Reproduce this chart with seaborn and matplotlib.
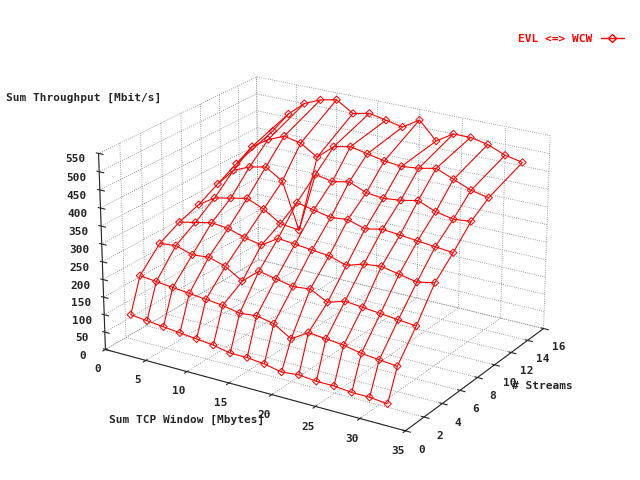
import numpy as np
import seaborn as sns
import matplotlib
matplotlib.use("Agg")
import matplotlib.pyplot as plt
from matplotlib.lines import Line2D

sns.set_style("white")
plt.rcParams['font.family'] = ['DejaVu Sans Mono']
plt.rcParams['font.weight'] = 'bold'

window = [2, 4, 6, 8, 10, 12, 14, 16, 18, 20, 22, 24, 26, 28, 30, 32]
streams = [1, 2, 4, 6, 8, 10, 12, 16]
throughput = [
    [95, 90, 85, 80, 75, 70, 60, 60, 55, 45, 50, 45, 45, 40, 40, 35],
    [190, 185, 180, 175, 170, 165, 155, 160, 150, 120, 150, 145, 140, 130, 125, 120],
    [250, 255, 240, 245, 230, 200, 240, 230, 220, 225, 200, 215, 210, 205, 200, 195],
    [280, 290, 300, 295, 280, 270, 300, 295, 290, 285, 270, 285, 290, 280, 270, 280],
    [300, 330, 340, 350, 330, 300, 370, 360, 350, 355, 340, 350, 345, 340, 335, 330],
    [330, 380, 400, 410, 380, 250, 420, 410, 420, 400, 395, 400, 410, 390, 380, 385],
    [360, 420, 450, 470, 460, 430, 470, 480, 470, 460, 455, 460, 470, 450, 430, 420],
    [400, 460, 500, 520, 530, 500, 510, 500, 490, 520, 470, 500, 500, 490, 470, 460],
]

X, Y = np.meshgrid(window, streams)
Z = np.array(throughput)

fig = plt.figure(figsize=(6.4, 4.8), dpi=100)
ax = fig.add_axes([0.0, -0.02, 1.0, 1.0], projection='3d')
red = '#ff0000'
ax.plot_wireframe(X, Y, Z, color=red, linewidth=0.8)
ax.scatter(X.ravel(), Y.ravel(), Z.ravel(), marker='D', s=14,
           facecolors='none', edgecolors=red, linewidths=0.7, depthshade=False)

ax.set_xlim(0, 35)
ax.set_ylim(0, 16)
ax.set_zlim(0, 550)
ax.set_box_aspect((1.25, 1.0, 0.75))
ax.set_xticks(range(0, 36, 5))
ax.set_yticks(range(0, 17, 2))
ax.set_zticks(range(0, 551, 50))
ax.tick_params(labelsize=8, pad=1)
ax.zaxis._axinfo['juggled'] = (1, 2, 0)
fig.text(0.17, 0.12, 'Sum TCP Window [Mbytes]', fontsize=8, fontweight='bold')
fig.text(0.80, 0.19, '# Streams', fontsize=8, fontweight='bold')
fig.text(0.01, 0.79, 'Sum Throughput [Mbit/s]', fontsize=8, fontweight='bold')
for a in (ax.xaxis, ax.yaxis, ax.zaxis):
    a.set_pane_color((1, 1, 1, 0))
    a._axinfo['grid'].update(color='#888888', linestyle=':', linewidth=0.6)
ax.view_init(elev=22, azim=-58)

h = Line2D([], [], color=red, marker='D', markerfacecolor='none', markersize=4, linewidth=1)
fig.legend([h], ['EVL <=> WCW'], loc='upper right', frameon=False,
           fontsize=8, labelcolor=red, markerfirst=False, bbox_to_anchor=(0.99, 0.95))

fig.savefig('out.png', dpi=100)
